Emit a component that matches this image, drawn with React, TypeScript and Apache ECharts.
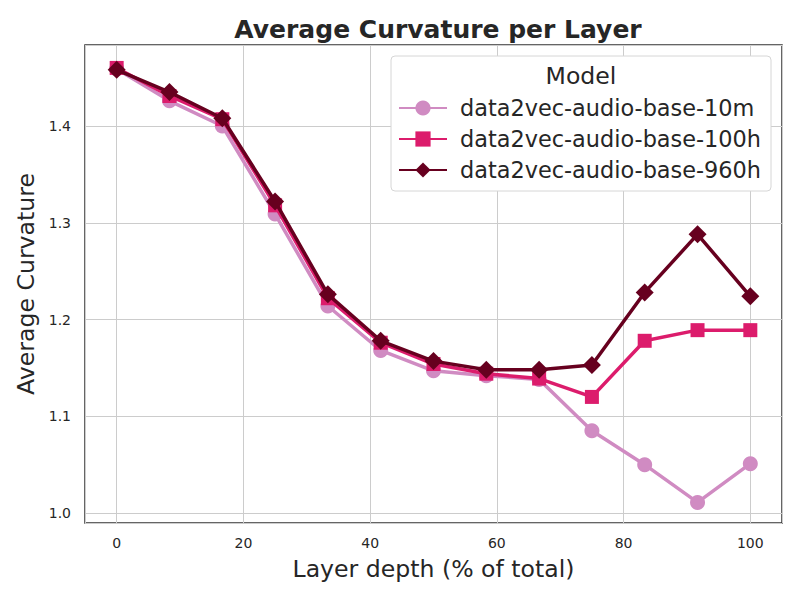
import React, { useEffect, useRef } from "react";
import * as echarts from "echarts";

// Layer depth (% of total) for the 13 layers (embedding + 12 transformer blocks)
const layerDepth = [0, 8.33, 16.67, 25, 33.33, 41.67, 50, 58.33, 66.67, 75, 83.33, 91.67, 100];

const curv10m = [1.459, 1.426, 1.4, 1.309, 1.214, 1.168, 1.147, 1.142, 1.138, 1.085, 1.05, 1.011, 1.051];
const curv100h = [1.46, 1.431, 1.407, 1.318, 1.222, 1.176, 1.154, 1.144, 1.139, 1.12, 1.178, 1.189, 1.189];
const curv960h = [1.458, 1.435, 1.408, 1.322, 1.226, 1.178, 1.157, 1.148, 1.148, 1.153, 1.228, 1.288, 1.224];

const seriesNames = ["data2vec-audio-base-10m", "data2vec-audio-base-100h", "data2vec-audio-base-960h"];
const seriesColors = ["#d08bc2", "#dc1c6c", "#67001f"];
const seriesSymbols = ["circle", "rect", "diamond"];
const seriesSizes = [15, 14, 18];

const FONT = "DejaVu Sans";

export default function App() {
  const ref = useRef<HTMLDivElement>(null);

  useEffect(() => {
    if (!ref.current) return;
    const chart = echarts.init(ref.current, null, { renderer: "svg" });
    const values = [curv10m, curv100h, curv960h];

    chart.setOption({
      animation: false,
      backgroundColor: "#ffffff",
      textStyle: { fontFamily: FONT },
      title: {
        text: "Average Curvature per Layer",
        left: 433,
        top: 12,
        textAlign: "center",
        textStyle: { fontFamily: FONT, fontSize: 25, fontWeight: "bold", color: "#262626" },
      },
      grid: {
        left: 85,
        right: 18,
        top: 45,
        bottom: 77,
        show: true,
        borderColor: "#333333",
        borderWidth: 1.5,
        backgroundColor: "transparent",
      },
      xAxis: {
        type: "value",
        min: -5,
        max: 105,
        splitNumber: 5,
        name: "Layer depth (% of total)",
        nameLocation: "middle",
        nameGap: 34,
        nameTextStyle: { fontFamily: FONT, fontSize: 23.6, color: "#262626" },
        axisLine: { show: false },
        axisTick: { show: false },
        axisLabel: {
          showMinLabel: false,
          showMaxLabel: false,
          margin: 13,
          fontFamily: FONT,
          fontSize: 14,
          color: "#262626",
        },
        splitLine: { show: true, lineStyle: { color: "#cccccc", width: 1 } },
      },
      yAxis: {
        type: "value",
        min: 0.9897,
        max: 1.4837,
        splitNumber: 5,
        name: "Average Curvature",
        nameLocation: "middle",
        nameGap: 47,
        nameTextStyle: { fontFamily: FONT, fontSize: 23.6, color: "#262626" },
        axisLine: { show: false },
        axisTick: { show: false },
        axisLabel: {
          showMinLabel: false,
          showMaxLabel: false,
          margin: 14,
          fontFamily: FONT,
          fontSize: 14,
          color: "#262626",
          formatter: (v: number) => v.toFixed(1),
        },
        splitLine: { show: true, lineStyle: { color: "#cccccc", width: 1 } },
      },
      legend: {
        orient: "vertical",
        left: 391,
        top: 56,
        padding: [41, 10, 10, 7],
        itemWidth: 48,
        itemHeight: 19,
        itemGap: 9,
        backgroundColor: "#ffffff",
        borderColor: "#d6d6d6",
        borderWidth: 1,
        borderRadius: 4,
        textStyle: { fontFamily: FONT, fontSize: 22.4, color: "#262626", padding: [0, 0, 0, 8] },
        data: seriesNames,
      },
      graphic: [
        {
          type: "text",
          x: 581,
          y: 76,
          z: 100,
          style: {
            text: "Model",
            font: `23.6px '${FONT}'`,
            fill: "#262626",
            textAlign: "center",
            textVerticalAlign: "middle",
          },
        },
      ],
      series: seriesNames.map((name, i) => ({
        name,
        type: "line",
        data: layerDepth.map((x, j) => [x, values[i][j]]),
        symbol: seriesSymbols[i],
        symbolSize: seriesSizes[i],
        color: seriesColors[i],
        lineStyle: { width: 3.5, color: seriesColors[i] },
        itemStyle: { color: seriesColors[i] },
        z: 2 + i,
      })),
    });

    return () => chart.dispose();
  }, []);

  return <div ref={ref} style={{ width: 800, height: 600, margin: -8 }} />;
}
